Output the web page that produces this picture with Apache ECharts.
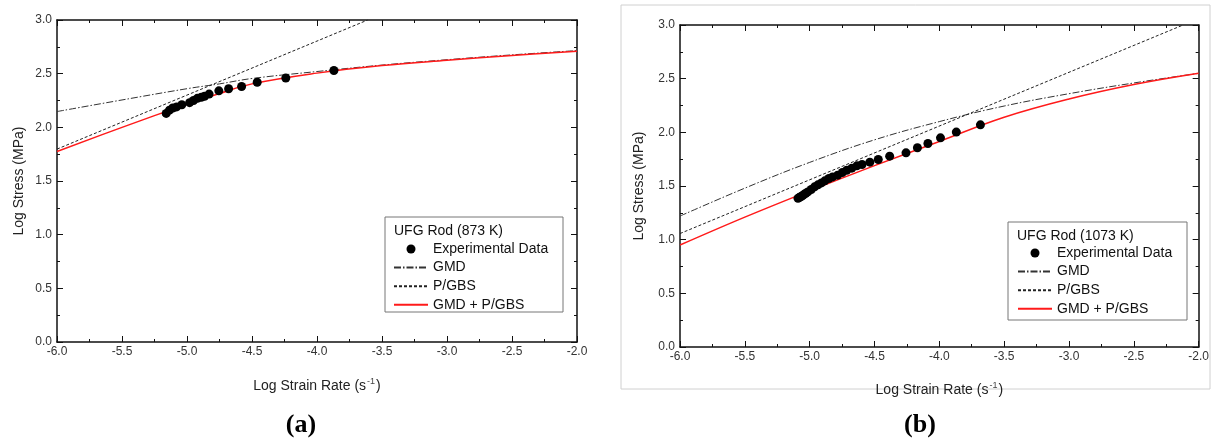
<!DOCTYPE html>
<html>
<head>
<meta charset="utf-8">
<script src="https://cdn.jsdelivr.net/npm/echarts@6/dist/echarts.min.js"></script>
<style>
  html, body { margin: 0; padding: 0; background: #fff; }
  #chart { width: 1212px; height: 443px; }
</style>
</head>
<body>
<div id="chart"></div>
<script>
// axis ranges (both panels)
const X_MIN = -6, X_MAX = -2, X_STEP = 0.5;
const Y_MIN = 0, Y_MAX = 3, Y_STEP = 0.5;

const NAMES = ['Experimental Data', 'GMD', 'P/GBS', 'GMD + P/GBS'];

// (a) UFG Rod 873 K
const aExpX = [-5.16, -5.135, -5.11, -5.08, -5.04, -4.98, -4.95, -4.92, -4.89, -4.865, -4.83, -4.755, -4.68, -4.58, -4.46, -4.24, -3.87];
const aExpY = [2.13, 2.16, 2.18, 2.19, 2.21, 2.23, 2.25, 2.27, 2.28, 2.29, 2.31, 2.34, 2.36, 2.38, 2.42, 2.46, 2.53];
const aCurveX = [-6, -5.5, -5, -4.75, -4.5, -4, -3.5, -3, -2.5, -2];
const aGmd = [2.147, 2.255, 2.36, 2.405, 2.455, 2.52, 2.58, 2.63, 2.675, 2.715];
const aSum = [1.775, 2.0, 2.215, 2.315, 2.405, 2.505, 2.575, 2.625, 2.67, 2.71];
const aPgbsX = [-6, -3.61];
const aPgbs = [1.797, 3.0];

// (b) UFG Rod 1073 K
const bExpX = [-5.09, -5.08, -5.066, -5.055, -5.045, -5.03, -5.014, -4.988, -4.962, -4.936, -4.909, -4.883, -4.852, -4.823, -4.784, -4.748, -4.714, -4.675, -4.636, -4.596, -4.536, -4.471, -4.383, -4.257, -4.169, -4.088, -3.991, -3.869, -3.683];
const bExpY = [1.385, 1.392, 1.402, 1.41, 1.42, 1.432, 1.445, 1.467, 1.492, 1.511, 1.529, 1.548, 1.57, 1.585, 1.601, 1.626, 1.647, 1.666, 1.688, 1.70, 1.722, 1.747, 1.778, 1.809, 1.856, 1.896, 1.949, 2.002, 2.07];
const bCurveX = [-6, -5.5, -5, -4.5, -4, -3.5, -3, -2.5, -2];
const bGmd = [1.22, 1.48, 1.72, 1.93, 2.10, 2.245, 2.36, 2.46, 2.55];
const bSum = [0.95, 1.21, 1.455, 1.69, 1.915, 2.14, 2.31, 2.445, 2.55];
const bPgbsX = [-6, -2.12];
const bPgbs = [1.057, 3.0];

const FONT = "'Liberation Sans', Arial, sans-serif";
const zip = (xs, ys) => xs.map((x, i) => [x, ys[i]]);

function xAxes(grid, nameGap) {
  const base = {
    gridIndex: grid, type: 'value', min: X_MIN, max: X_MAX, interval: X_STEP,
    axisLine: { onZero: false, lineStyle: { color: '#111', width: 1.5 } },
    axisTick: { inside: true, length: 6, lineStyle: { color: '#111' } },
    minorTick: { show: true, splitNumber: 2, length: 3, lineStyle: { color: '#111' } },
    splitLine: { show: false }
  };
  return [
    Object.assign({}, base, {
      position: 'bottom',
      axisLabel: { formatter: v => v.toFixed(1), color: '#333', fontSize: 12, fontFamily: FONT, margin: 4 },
      name: 'Log Strain Rate (s{sup|-1})', nameLocation: 'middle', nameGap: nameGap,
      nameTextStyle: { fontSize: 14, fontFamily: FONT, color: '#222', rich: { sup: { fontSize: 9, fontFamily: FONT, color: '#444', padding: [0, 1, 9, 1] } } }
    }),
    Object.assign({}, base, { position: 'top', axisLabel: { show: false } })
  ];
}

function yAxes(grid, nameGap) {
  const base = {
    gridIndex: grid, type: 'value', min: Y_MIN, max: Y_MAX, interval: Y_STEP,
    axisLine: { onZero: false, lineStyle: { color: '#111', width: 1.5 } },
    axisTick: { inside: true, length: 6, lineStyle: { color: '#111' } },
    minorTick: { show: true, splitNumber: 2, length: 3, lineStyle: { color: '#111' } },
    splitLine: { show: false }
  };
  return [
    Object.assign({}, base, {
      position: 'left',
      axisLabel: { formatter: v => v.toFixed(1), color: '#333', fontSize: 12, fontFamily: FONT, margin: 5 },
      name: 'Log Stress (MPa)', nameLocation: 'middle', nameGap: nameGap, nameRotate: 90,
      nameTextStyle: { fontSize: 14, fontFamily: FONT, color: '#222' }
    }),
    Object.assign({}, base, { position: 'right', axisLabel: { show: false } })
  ];
}

function panelSeries(axisIdx, expX, expY, curveX, gmd, sum, pgbsX, pgbs) {
  const ax = { xAxisIndex: axisIdx, yAxisIndex: axisIdx };
  return [
    Object.assign({ name: NAMES[1], type: 'line', data: zip(curveX, gmd), smooth: 0.4, symbol: 'none',
      lineStyle: { color: '#333', width: 1, type: [7, 2, 1.5, 2] }, z: 2 }, ax),
    Object.assign({ name: NAMES[2], type: 'line', data: zip(pgbsX, pgbs), symbol: 'none',
      lineStyle: { color: '#222', width: 1, type: [3, 2] }, z: 2 }, ax),
    Object.assign({ name: NAMES[3], type: 'line', data: zip(curveX, sum), smooth: 0.4, symbol: 'none',
      lineStyle: { color: '#ff1a1a', width: 1.5 }, z: 3 }, ax),
    Object.assign({ name: NAMES[0], type: 'scatter', data: zip(expX, expY), symbol: 'circle', symbolSize: 9,
      itemStyle: { color: '#000', opacity: 1 }, z: 4 }, ax)
  ];
}

// line entries get no marker in the legend, only their stroke
const legendData = NAMES.map((n, i) => i === 0 ? { name: n, itemStyle: { color: '#000', opacity: 1 } } : { name: n, itemStyle: { opacity: 0 } });

function legendAt(left, top) {
  return {
    left: left, top: top, orient: 'vertical', padding: 0, data: legendData, z: 12,
    itemWidth: 34, itemHeight: 9, itemGap: 4.6, selectedMode: false,
    textStyle: { fontSize: 14, fontFamily: FONT, color: '#111' }
  };
}

function legendBox(x, y, w, h, title) {
  return [
    { type: 'rect', shape: { x: x, y: y, width: w, height: h }, style: { fill: 'none', stroke: '#777', lineWidth: 1 }, z: 1 },
    { type: 'text', x: x + 9, y: y + 14, style: { text: title, font: '14px ' + FONT, fill: '#111', textVerticalAlign: 'middle' }, z: 1 }
  ];
}

const chart = echarts.init(document.getElementById('chart'), null, { renderer: 'canvas' });

chart.setOption({
  animation: false,
  backgroundColor: '#fff',
  grid: [
    { left: 57, top: 20, width: 520, height: 322 },
    { left: 680, top: 25, width: 522, height: 322 }
  ],
  xAxis: xAxes(0, 35).concat(xAxes(1, 34)),
  yAxis: yAxes(0, 31).concat(yAxes(1, 34)),
  legend: [legendAt(393, 242), legendAt(1017, 246)],
  graphic: [
    { type: 'rect', shape: { x: 621, y: 5, width: 589, height: 384 }, style: { fill: 'none', stroke: '#d0d0d0', lineWidth: 1 }, z: 0 }
  ].concat(legendBox(385, 217, 178, 95, 'UFG Rod (873 K)'))
   .concat(legendBox(1008, 222, 179, 98, 'UFG Rod (1073 K)'))
   .concat([
    { type: 'text', x: 301, y: 425, style: { text: '(a)', font: 'bold 26px "Liberation Serif", "Times New Roman", serif', fill: '#000', textAlign: 'center', textVerticalAlign: 'middle' } },
    { type: 'text', x: 920, y: 425, style: { text: '(b)', font: 'bold 26px "Liberation Serif", "Times New Roman", serif', fill: '#000', textAlign: 'center', textVerticalAlign: 'middle' } }
  ]),
  series: panelSeries(0, aExpX, aExpY, aCurveX, aGmd, aSum, aPgbsX, aPgbs)
    .concat(panelSeries(2, bExpX, bExpY, bCurveX, bGmd, bSum, bPgbsX, bPgbs))
});
</script>
</body>
</html>
